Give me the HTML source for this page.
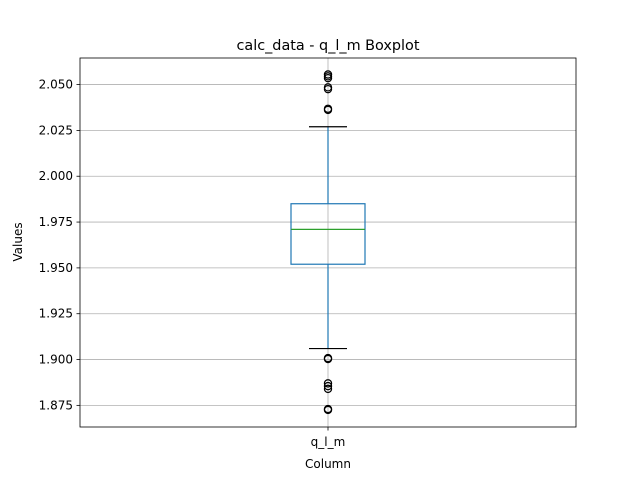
<!DOCTYPE html>
<html><head><meta charset="utf-8"><style>
body{margin:0;background:#fff;}
svg text{font-family:"DejaVu Sans","Liberation Sans",sans-serif;fill:#000;}
</style></head><body>
<svg id="chart" width="640" height="480"></svg>
<script>
const categories=["q_l_m"];
const q1Values=[1.952];
const medianValues=[1.971];
const q3Values=[1.985];
const whiskerLow=[1.906];
const whiskerHigh=[2.027];
const outliers=[[2.0555,2.0545,2.0535,2.0485,2.0475,2.0368,2.0362,1.9008,1.9003,1.887,1.8855,1.884,1.873,1.8725]];
const yTicks=[1.875,1.900,1.925,1.950,1.975,2.000,2.025,2.050];
const yLabels=["1.875","1.900","1.925","1.950","1.975","2.000","2.025","2.050"];

const L=80,R=576,T=58,B=427;
const yMin=1.8632,yMax=2.0645;
function y(v){return B-(v-yMin)/(yMax-yMin)*(B-T);}
function x(i){return L+(i+0.5)*(R-L)/categories.length;}
const svg=document.getElementById('chart');
const NS="http://www.w3.org/2000/svg";
function mk(tag,attrs,parent){const e=document.createElementNS(NS,tag);for(const k in attrs)e.setAttribute(k,attrs[k]);(parent||svg).appendChild(e);return e;}

const title=mk('text',{x:328,y:50,'text-anchor':'middle','font-size':14.4});
title.textContent="calc_data - q_l_m Boxplot";



yTicks.forEach((t,i)=>{
  const g=mk('line',{x1:L,x2:R,y1:y(t),y2:y(t),stroke:'#b0b0b0','stroke-width':0.8});
  
  
  mk('line',{x1:L-3.5,x2:L,y1:y(t),y2:y(t),stroke:'#000','stroke-width':0.8});
  const lb=mk('text',{x:L-7,y:y(t)+4,'text-anchor':'end','font-size':12});
  lb.textContent=yLabels[i];
  
  
});
categories.forEach((c,i)=>{
  const cx=x(i);
  const gx=mk('line',{x1:cx,x2:cx,y1:T,y2:B,stroke:'#b0b0b0','stroke-width':0.8});
  
  
  mk('line',{x1:cx,x2:cx,y1:B,y2:B+3.5,stroke:'#000','stroke-width':0.8});
  const lb=mk('text',{x:cx,y:B+19,'text-anchor':'middle','font-size':12});
  lb.textContent=c;
  
  
  const bw=74,cw=38;
  const w1=mk('line',{x1:cx,x2:cx,y1:y(q1Values[i]),y2:y(whiskerLow[i]),stroke:'#1f77b4','stroke-width':1.2});
  
  
  const w2=mk('line',{x1:cx,x2:cx,y1:y(q3Values[i]),y2:y(whiskerHigh[i]),stroke:'#1f77b4','stroke-width':1.2});
  
  
  const c1=mk('line',{x1:cx-cw/2,x2:cx+cw/2,y1:y(whiskerLow[i]),y2:y(whiskerLow[i]),stroke:'#000','stroke-width':1.2});
  
  
  const c2=mk('line',{x1:cx-cw/2,x2:cx+cw/2,y1:y(whiskerHigh[i]),y2:y(whiskerHigh[i]),stroke:'#000','stroke-width':1.2});
  
  
  const bx=mk('rect',{x:cx-bw/2,y:y(q3Values[i]),width:bw,height:y(q1Values[i])-y(q3Values[i]),fill:'none',stroke:'#1f77b4','stroke-width':1.2});
  
  
  const md=mk('line',{x1:cx-bw/2,x2:cx+bw/2,y1:y(medianValues[i]),y2:y(medianValues[i]),stroke:'#2ca02c','stroke-width':1.2});
  
  
  outliers[i].forEach(v=>{
    const o=mk('circle',{cx:cx,cy:y(v),r:3.6,fill:'none',stroke:'#000','stroke-width':1.2});
    
    
  });
});
const fr=mk('rect',{x:L,y:T,width:R-L,height:B-T,fill:'none',stroke:'#000','stroke-width':0.8});


const xt=mk('text',{x:328,y:468,'text-anchor':'middle','font-size':12});
xt.textContent="Column";


const yt=mk('text',{x:22,y:242,'text-anchor':'middle','font-size':12,transform:'rotate(-90 22 242)'});
yt.textContent="Values";


</script>
</body></html>
